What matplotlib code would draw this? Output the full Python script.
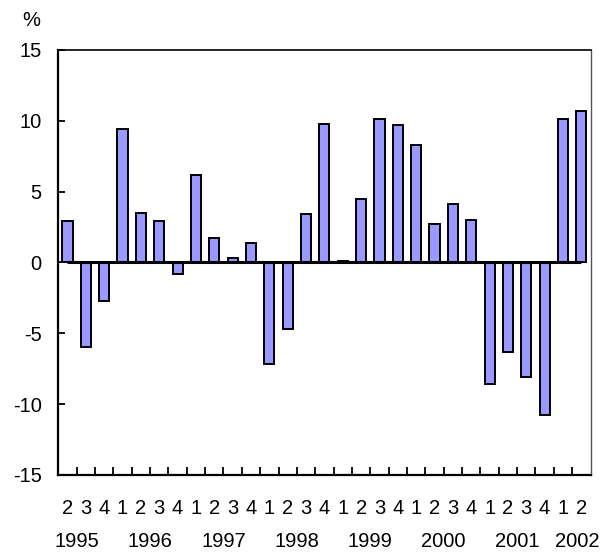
import numpy as np
import matplotlib
matplotlib.use('Agg')
import matplotlib.pyplot as plt
import matplotlib.transforms as mtransforms

plt.rcParams['font.family'] = ['Liberation Sans', 'DejaVu Sans']
plt.rcParams['axes.unicode_minus'] = False

# quarterly change, % (1995Q2 .. 2002Q2)
quarters = ['2', '3', '4',
            '1', '2', '3', '4',
            '1', '2', '3', '4',
            '1', '2', '3', '4',
            '1', '2', '3', '4',
            '1', '2', '3', '4',
            '1', '2', '3', '4',
            '1', '2']
values = [2.9, -6.0, -2.7,
          9.4, 3.5, 2.9, -0.8,
          6.2, 1.7, 0.3, 1.4,
          -7.2, -4.7, 3.4, 9.8,
          0.1, 4.5, 10.1, 9.7,
          8.3, 2.7, 4.1, 3.0,
          -8.6, -6.3, -8.1, -10.8,
          10.1, 10.7]
years = ['1995', '1996', '1997', '1998', '1999', '2000', '2001', '2002']
year_pos = [0.5, 4.5, 8.5, 12.5, 16.5, 20.5, 24.5, 27.8]

x = np.arange(len(values))

fig = plt.figure(figsize=(6.13, 5.52), dpi=100)
ax = fig.add_axes([0.0951, 0.1395, 0.8682, 0.77])

ax.bar(x, values, width=0.55, color='#9999FF', edgecolor='black', linewidth=1.4, zorder=2)
ax.hlines(0, x[0], x[-1], color='black', linewidth=2.2, zorder=3)

ax.set_xlim(-0.5, len(values) - 0.5)
ax.set_ylim(-15, 15)
ax.set_yticks([-15, -10, -5, 0, 5, 10, 15])
ax.tick_params(axis='y', direction='in', length=5, width=1.3, labelsize=14.5, pad=12)

ax.set_xticks(x)
ax.set_xticklabels(quarters)
ax.tick_params(axis='x', which='major', length=0, labelsize=14.5, pad=17)
ax.set_xticks(np.arange(0.5, len(values) - 1, 1.0), minor=True)
ax.tick_params(axis='x', which='minor', direction='in', length=6, width=1.3)

for s in ['left', 'bottom']:
    ax.spines[s].set_linewidth(1.6)
ax.spines['top'].set_linewidth(1.2)
ax.spines['right'].set_linewidth(1.0)
ax.spines['right'].set_color('#555555')

trans = mtransforms.blended_transform_factory(ax.transData, fig.transFigure)
for yr, p in zip(years, year_pos):
    ax.text(p, 1 - 541.7 / 552, yr, transform=trans, ha='center', va='center', fontsize=14.5)

fig.text(31.7 / 613, 1 - 20 / 552, '%', ha='center', va='center', fontsize=14.5)

fig.savefig('out.png', dpi=100)
